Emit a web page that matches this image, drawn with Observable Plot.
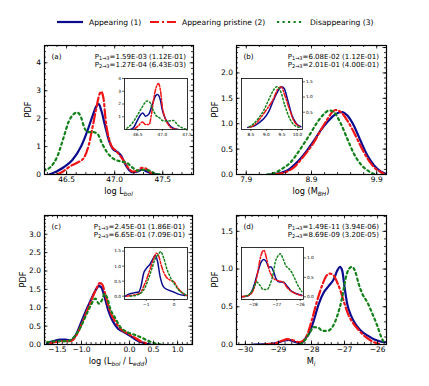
<!DOCTYPE html>
<html><head><meta charset="utf-8">
<script src="https://cdn.jsdelivr.net/npm/d3@7"></script>
<script src="https://cdn.jsdelivr.net/npm/@observablehq/plot@0.6"></script>
<style>
body{margin:0;background:white;}
#chart{position:relative;width:429px;height:386px;overflow:hidden;background:white;}
#chart svg{position:absolute;left:0;top:0;}
</style></head><body><div id="chart"></div>
<script>
// ---------- data ----------
const seriesNames = ["Appearing (1)", "Appearing pristine (2)", "Disappearing (3)"];
const colors = ["#0b0b8f", "#f01414", "#13801a"];

// (a) log L_bol
const aBlue = [[46.32,0],[46.40,0.12],[46.47,0.26],[46.56,0.52],[46.65,1.0],[46.72,1.6],[46.77,2.1],[46.81,2.45],[46.835,2.52],[46.86,2.3],[46.9,1.75],[46.94,1.22],[46.98,0.92],[47.03,0.8],[47.07,0.66],[47.1,0.44],[47.14,0.2],[47.18,0.08],[47.23,0.1],[47.29,0.17],[47.34,0.1],[47.39,0.03],[47.45,0]];
const aRed = [[46.40,0],[46.45,0.08],[46.54,0.3],[46.61,0.42],[46.68,0.6],[46.73,1.05],[46.77,1.7],[46.81,2.4],[46.84,2.85],[46.86,2.97],[46.885,2.7],[46.906,1.94],[46.94,1.3],[46.97,1.0],[47.01,0.86],[47.06,0.66],[47.1,0.46],[47.14,0.24],[47.19,0.1],[47.24,0.14],[47.28,0.24],[47.32,0.22],[47.37,0.08],[47.42,0]];
const aGreen = [[46.26,0.14],[46.33,0.26],[46.40,0.62],[46.47,1.34],[46.52,1.88],[46.57,2.15],[46.61,2.22],[46.65,2.05],[46.68,1.72],[46.72,1.52],[46.77,1.52],[46.82,1.46],[46.87,1.1],[46.92,0.8],[46.99,0.56],[47.06,0.47],[47.13,0.41],[47.18,0.26],[47.24,0.14],[47.31,0.17],[47.36,0.14],[47.43,0.02],[47.48,0]];
const aInBlue = [[46.35,0],[46.42,0.18],[46.49,0.7],[46.56,1.18],[46.6,1.29],[46.66,1.03],[46.73,1.24],[46.8,2.03],[46.87,2.68],[46.9,2.74],[46.96,2.29],[47.0,1.5],[47.08,0.71],[47.15,0.32],[47.22,0.1],[47.32,0]];
const aInRed = [[46.42,0],[46.52,0.32],[46.59,0.58],[46.66,0.39],[46.73,0.39],[46.78,1.24],[46.83,2.55],[46.89,3.47],[46.92,3.6],[46.96,3.08],[47.0,1.76],[47.06,0.84],[47.13,0.32],[47.22,0.05],[47.32,0]];
const aInGreen = [[46.28,0.1],[46.38,0.45],[46.49,1.1],[46.59,1.76],[46.69,2.24],[46.74,2.16],[46.8,1.63],[46.87,1.1],[46.94,0.92],[47.0,0.71],[47.11,0.66],[47.22,0.71],[47.32,0.32],[47.42,0.1],[47.49,0.03]];

// (b) log M_BH
const bBlue = [[8.27,0],[8.42,0.03],[8.53,0.08],[8.63,0.18],[8.73,0.31],[8.83,0.47],[8.94,0.67],[9.04,0.87],[9.14,1.03],[9.24,1.16],[9.32,1.22],[9.37,1.23],[9.45,1.16],[9.55,0.96],[9.65,0.67],[9.76,0.37],[9.86,0.18],[9.96,0.06],[10.04,0.01]];
const bRed = [[8.32,0],[8.53,0.06],[8.63,0.14],[8.73,0.28],[8.83,0.44],[8.94,0.64],[9.04,0.87],[9.14,1.08],[9.22,1.23],[9.27,1.27],[9.35,1.23],[9.45,1.06],[9.55,0.83],[9.65,0.57],[9.76,0.31],[9.86,0.14],[9.96,0.05],[10.01,0.01]];
const bGreen = [[8.22,0],[8.37,0.05],[8.47,0.13],[8.58,0.24],[8.68,0.41],[8.78,0.6],[8.88,0.8],[8.99,1.03],[9.09,1.19],[9.17,1.26],[9.24,1.23],[9.35,1.0],[9.45,0.7],[9.55,0.41],[9.65,0.21],[9.76,0.08],[9.86,0.01]];
const bInBlue = [[8.4,0],[8.6,0.04],[8.76,0.15],[8.92,0.29],[9.07,0.51],[9.23,0.9],[9.39,1.23],[9.49,1.34],[9.57,1.28],[9.7,0.84],[9.82,0.4],[9.96,0.13],[10.11,0.02]];
const bInRed = [[8.45,0],[8.6,0.07],[8.76,0.24],[8.92,0.46],[9.07,0.68],[9.23,0.95],[9.36,1.25],[9.47,1.34],[9.59,1.06],[9.75,0.57],[9.9,0.18],[10.06,0.04]];
const bInGreen = [[8.45,0.02],[8.6,0.13],[8.76,0.32],[8.92,0.57],[9.07,0.9],[9.23,1.23],[9.33,1.34],[9.44,1.23],[9.59,0.73],[9.75,0.29],[9.9,0.07],[10.06,0]];

// (c) log Eddington ratio
const cBlue = [[-1.72,0.04],[-1.58,0.09],[-1.44,0.13],[-1.33,0.13],[-1.23,0.11],[-1.12,0.25],[-1.02,0.56],[-0.92,0.88],[-0.81,1.2],[-0.71,1.47],[-0.64,1.59],[-0.59,1.56],[-0.52,1.29],[-0.43,0.88],[-0.34,0.61],[-0.24,0.43],[-0.12,0.34],[0.02,0.23],[0.16,0.11],[0.3,0.04],[0.44,0]];
const cRed = [[-1.65,0.04],[-1.37,0.09],[-1.23,0.09],[-1.09,0.29],[-0.99,0.58],[-0.88,0.93],[-0.78,1.25],[-0.69,1.52],[-0.62,1.67],[-0.57,1.64],[-0.5,1.34],[-0.4,0.88],[-0.29,0.61],[-0.19,0.43],[-0.05,0.31],[0.09,0.2],[0.23,0.09],[0.37,0.02]];
const cGreen = [[-1.72,0.06],[-1.51,0.09],[-1.3,0.09],[-1.16,0.2],[-1.02,0.47],[-0.92,0.75],[-0.81,1.06],[-0.71,1.25],[-0.64,1.11],[-0.57,1.22],[-0.52,1.38],[-0.47,1.29],[-0.4,0.97],[-0.29,0.7],[-0.19,0.47],[-0.05,0.34],[0.09,0.27],[0.23,0.2],[0.37,0.11],[0.51,0.04],[0.65,0]];
const cInBlue = [[-1.75,0],[-1.63,0.07],[-1.45,0.11],[-1.27,0.14],[-1.18,0.36],[-1.1,0.74],[-0.98,0.94],[-0.86,1.07],[-0.76,1.24],[-0.68,1.35],[-0.6,1.18],[-0.5,0.64],[-0.38,0.31],[-0.2,0.2],[-0.02,0.14],[0.15,0.07],[0.39,0.02]];
const cInRed = [[-1.7,0],[-1.45,0.04],[-1.21,0.11],[-1.1,0.31],[-0.98,0.58],[-0.86,0.91],[-0.74,1.24],[-0.64,1.43],[-0.56,1.35],[-0.44,0.96],[-0.32,0.69],[-0.14,0.53],[0,0.47],[0.15,0.25],[0.33,0.09],[0.45,0.02]];
const cInGreen = [[-1.57,0],[-1.33,0.04],[-1.15,0.14],[-1.03,0.31],[-0.92,0.58],[-0.8,0.91],[-0.68,1.24],[-0.56,1.4],[-0.48,1.48],[-0.38,1.29],[-0.26,0.91],[-0.14,0.64],[0,0.42],[0.15,0.22],[0.33,0.09],[0.45,0.03]];

// (d) M_i
const dBlue = [[-29.75,0],[-29.24,0.01],[-28.99,0.03],[-28.84,0.05],[-28.69,0.06],[-28.54,0.04],[-28.38,0.02],[-28.25,0.04],[-28.15,0.1],[-28.08,0.14],[-27.93,0.32],[-27.78,0.54],[-27.63,0.69],[-27.47,0.78],[-27.32,0.87],[-27.22,0.98],[-27.14,1.03],[-27.07,0.98],[-27.0,0.76],[-26.92,0.54],[-26.8,0.38],[-26.67,0.27],[-26.52,0.19],[-26.31,0.12],[-26.11,0.07],[-25.91,0.04],[-25.76,0.03]];
const dRed = [[-29.44,0],[-29.14,0.01],[-28.89,0.05],[-28.74,0.07],[-28.59,0.06],[-28.38,0.03],[-28.23,0.06],[-28.13,0.13],[-27.98,0.34],[-27.83,0.58],[-27.68,0.78],[-27.55,0.91],[-27.44,0.94],[-27.32,0.91],[-27.22,0.82],[-27.12,0.71],[-27.0,0.54],[-26.87,0.38],[-26.72,0.27],[-26.57,0.19],[-26.36,0.1],[-26.16,0.04],[-25.96,0.01]];
const dGreen = [[-28.33,0],[-28.18,0.07],[-28.05,0.16],[-27.93,0.23],[-27.78,0.22],[-27.68,0.18],[-27.53,0.18],[-27.37,0.23],[-27.22,0.38],[-27.07,0.63],[-26.97,0.87],[-26.87,1.0],[-26.77,1.03],[-26.67,0.96],[-26.57,0.8],[-26.46,0.67],[-26.31,0.56],[-26.16,0.41],[-26.01,0.25],[-25.89,0.1],[-25.81,0.03]];
const dInBlue = [[-28.5,0],[-28.25,0.02],[-28.04,0.17],[-27.9,0.43],[-27.76,0.73],[-27.66,0.9],[-27.55,0.96],[-27.44,0.9],[-27.34,0.77],[-27.24,0.77],[-27.13,0.64],[-27.01,0.44],[-26.87,0.38],[-26.73,0.38],[-26.59,0.3],[-26.42,0.17],[-26.21,0.09],[-25.93,0.04]];
const dInRed = [[-28.5,0],[-28.18,0.04],[-27.97,0.21],[-27.83,0.56],[-27.72,0.94],[-27.62,1.15],[-27.55,1.2],[-27.45,1.03],[-27.34,0.73],[-27.2,0.53],[-27.06,0.44],[-26.92,0.41],[-26.73,0.38],[-26.56,0.24],[-26.35,0.13],[-26.14,0.07],[-25.93,0.03]];
const dInGreen = [[-28.32,0.02],[-28.11,0.1],[-27.97,0.24],[-27.86,0.38],[-27.72,0.3],[-27.58,0.19],[-27.41,0.19],[-27.27,0.34],[-27.15,0.6],[-27.06,0.9],[-26.96,1.04],[-26.85,1.11],[-26.73,0.98],[-26.62,0.81],[-26.49,0.73],[-26.35,0.62],[-26.21,0.44],[-26.07,0.26],[-25.93,0.13]];

// tick labels
const aXLabels = [46.5, 47.0, 47.5], aYLabels = [0, 1, 2, 3, 4];
const bXLabels = [7.9, 8.9, 9.9], bYLabels = [0, 0.5, 1.0, 1.5, 2.0];
const cXLabels = [-1.5, -1.0, 0.0, 0.5, 1.0], cYLabels = [0, 0.5, 1.0, 1.5, 2.0, 2.5, 3.0];
const dXLabels = [-30, -29, -28, -27, -26], dYLabels = [0, 0.5, 1.0, 1.5];
const aInXLabels = [46.5, 47.0, 47.5], aInYLabels = [1, 2, 3, 4];
const bInXLabels = [8.5, 9.0, 9.5, 10.0], bInYLabels = [0.5, 1.0, 1.5];
const cInXLabels = [-1, 0], cInYLabels = [0.0, 0.5, 1.0, 1.5];
const dInXLabels = [-28, -27, -26], dInYLabels = [0.0, 0.5, 1.0];

// annotation texts
const panelLetters = ["(a)", "(b)", "(c)", "(d)"];
const p13 = ["1.59E-03 (1.12E-01)", "6.08E-02 (1.12E-01)", "2.45E-01 (1.86E-01)", "1.49E-11 (3.94E-06)"];
const p23 = ["1.27E-04 (6.43E-03)", "2.01E-01 (4.00E-01)", "6.65E-01 (7.09E-01)", "8.69E-09 (3.20E-05)"];

// ---------- layout ----------
const W = 429, H = 386;
const FONT = "DejaVu Sans";
const mainDash = [null, "9,3,2,3", "2.2,3.3"];
const inDash = [null, "5,1.8,1.4,1.8", "1.5,2.2"];

const panels = [
  {box:[44,45,193,174], xd:[46.27,47.82], yd:[0,4.62], xBase:46.5, xStep:0.5, xMinor:0.1, yBase:0, yStep:1, yMinor:0.2,
   xl:aXLabels, yl:aYLabels, xf:".1f", yf:"d", series:[aBlue,aRed,aGreen],
   inset:{box:[124,78,187,129], xd:[46.23,47.51], yd:[0,4], xl:aInXLabels, yl:aInYLabels, xf:".1f", yf:"d", right:false, series:[aInBlue,aInRed,aInGreen]}},
  {box:[236,45,386,174], xd:[7.75,10.05], yd:[0,2.54], xBase:7.9, xStep:1, xMinor:0.2, yBase:0, yStep:0.5, yMinor:0.1,
   xl:bXLabels, yl:bYLabels, xf:".1f", yf:".1f", series:[bBlue,bRed,bGreen],
   inset:{box:[241,78,302,129], xd:[8.2,10.16], yd:[-0.07,1.61], xl:bInXLabels, yl:bInYLabels, xf:".1f", yf:".1f", right:true, series:[bInBlue,bInRed,bInGreen]}},
  {box:[44,215,192,344], xd:[-1.77,1.31], yd:[0,3.51], xBase:0, xStep:0.5, xMinor:0.1, yBase:0, yStep:0.5, yMinor:0.1,
   xl:cXLabels, yl:cYLabels, xf:".1f", yf:".1f", series:[cBlue,cRed,cGreen],
   inset:{box:[124,247,187,299], xd:[-1.78,0.48], yd:[-0.11,1.62], xl:cInXLabels, yl:cInYLabels, xf:"d", yf:".1f", right:false, series:[cInBlue,cInRed,cInGreen]}},
  {box:[236,215,386,344], xd:[-30.27,-25.73], yd:[0,1.71], xBase:-30, xStep:1, xMinor:0.2, yBase:0, yStep:0.5, yMinor:0.1,
   xl:dXLabels, yl:dYLabels, xf:"d", yf:".1f", series:[dBlue,dRed,dGreen],
   inset:{box:[241,247,303,299], xd:[-28.5,-25.86], yd:[-0.07,1.27], xl:dInXLabels, yl:dInYLabels, xf:"d", yf:".1f", right:true, series:[dInBlue,dInRed,dInGreen]}}
];

function stepTicks(domain, base, step) {
  const k0 = Math.ceil((domain[0] - base) / step - 1e-9), k1 = Math.floor((domain[1] - base) / step + 1e-9);
  return d3.range(k0, k1 + 1).map(k => +(base + k * step).toFixed(6));
}

function mainPanel(p) {
  const [x0, y0, x1, y1] = p.box, fw = x1 - x0, fh = y1 - y0;
  const major = 3.5, minor = 2;
  const xM = stepTicks(p.xd, p.xBase, p.xStep), xm = stepTicks(p.xd, p.xBase, p.xMinor);
  const yM = stepTicks(p.yd, p.yBase, p.yStep), ym = stepTicks(p.yd, p.yBase, p.yMinor);
  const marks = [];
  p.series.forEach((pts, i) => marks.push(Plot.line(pts, {x: d => d[0], y: d => d[1], stroke: colors[i], strokeWidth: 2.2, strokeDasharray: mainDash[i], curve: "monotone-x", clip: true})));
  const tk = {stroke: "black", strokeWidth: 0.8};
  marks.push(
    Plot.tickX(xm, {x: d => d, insetTop: fh - minor, ...tk}),
    Plot.tickX(xm, {x: d => d, insetBottom: fh - minor, ...tk}),
    Plot.tickX(xM, {x: d => d, insetTop: fh - major, ...tk}),
    Plot.tickX(xM, {x: d => d, insetBottom: fh - major, ...tk}),
    Plot.tickY(ym, {y: d => d, insetRight: fw - minor, ...tk}),
    Plot.tickY(ym, {y: d => d, insetLeft: fw - minor, ...tk}),
    Plot.tickY(yM, {y: d => d, insetRight: fw - major, ...tk}),
    Plot.tickY(yM, {y: d => d, insetLeft: fw - major, ...tk}),
    Plot.axisX(p.xl, {tickSize: 0, tickPadding: 2.5, tickFormat: d3.format(p.xf), label: null, fill: "black"}),
    Plot.axisY(p.yl, {tickSize: 0, tickPadding: 3.5, tickFormat: d3.format(p.yf), label: null, fill: "black"}),
    Plot.frame({stroke: "black", strokeWidth: 1.2})
  );
  return Plot.plot({width: W, height: H, marginLeft: x0, marginRight: W - x1, marginTop: y0, marginBottom: H - y1,
    x: {domain: p.xd}, y: {domain: p.yd},
    style: {background: "transparent", fontFamily: FONT, fontSize: "7.5px", color: "black"}, marks});
}

function insetPanel(q) {
  const [x0, y0, x1, y1] = q.box;
  const marks = [Plot.frame({fill: "white", stroke: "none"})];
  q.series.forEach((pts, i) => marks.push(Plot.line(pts, {x: d => d[0], y: d => d[1], stroke: colors[i], strokeWidth: 1.5, strokeDasharray: inDash[i], curve: "monotone-x", clip: true})));
  marks.push(
    Plot.axisX(q.xl, {tickSize: 2, tickPadding: 1, tickFormat: d3.format(q.xf), label: null, stroke: "black", strokeWidth: 0.6, fill: "black"}),
    Plot.axisY(q.yl, {anchor: q.right ? "right" : "left", tickSize: 2, tickPadding: 1.5, tickFormat: d3.format(q.yf), label: null, stroke: "black", strokeWidth: 0.6, fill: "black"}),
    Plot.frame({stroke: "black", strokeWidth: 0.8})
  );
  return Plot.plot({width: W, height: H, marginLeft: x0, marginRight: W - x1, marginTop: y0, marginBottom: H - y1,
    x: {domain: q.xd}, y: {domain: q.yd},
    style: {background: "transparent", fontFamily: FONT, fontSize: "4.3px", color: "black"}, marks});
}

const chart = document.getElementById("chart");
panels.forEach(p => chart.appendChild(mainPanel(p)));
panels.forEach(p => chart.appendChild(insetPanel(p.inset)));

// ---------- text overlay ----------
const ov = d3.select(chart).append("svg").attr("width", W).attr("height", H).attr("font-family", FONT).attr("fill", "black");

function rich(x, y, parts, size, anchor = "start", rotate = false) {
  const t = ov.append("text").attr("x", x).attr("y", y).attr("font-size", size).attr("text-anchor", anchor);
  if (rotate) t.attr("transform", `rotate(-90,${x},${y})`);
  let shift = 0;
  for (const [s, kind] of parts) {
    const isSub = kind === "sub" || kind === "isub";
    const target = isSub ? size * 0.2 : 0;
    const ts = t.append("tspan").text(s).attr("dy", target - shift);
    shift = target;
    if (isSub) ts.attr("font-size", size * 0.72);
    if (kind === "isub") ts.attr("font-style", "italic");
  }
  return t;
}

// legend
const legY = 22;
const legItems = [{x: 57, tx: 89}, {x: 150, tx: 182}, {x: 277, tx: 310}];
legItems.forEach((it, i) => {
  ov.append("line").attr("x1", it.x).attr("x2", it.x + 26).attr("y1", legY).attr("y2", legY)
    .attr("stroke", colors[i]).attr("stroke-width", 2.2).attr("stroke-dasharray", mainDash[i]);
  ov.append("text").attr("x", it.tx).attr("y", legY + 3).attr("font-size", 7.6).text(seriesNames[i]);
});

// panel annotations
panels.forEach((p, i) => {
  const [x0, y0, x1, y1] = p.box;
  ov.append("text").attr("x", x0 + 7.5).attr("y", y0 + 13.5).attr("font-size", 7.2).text(panelLetters[i]);
  rich(x1 - 7, y0 + 13.5, [["P", ""], ["1→3", "sub"], ["=" + p13[i], ""]], 7, "end");
  rich(x1 - 7, y0 + 22, [["P", ""], ["2→3", "sub"], ["=" + p23[i], ""]], 7, "end");
});

// axis titles
const fs = 8.2;
rich(118.5, 194, [["log L", ""], ["bol", "isub"]], fs, "middle");
rich(311, 194, [["log (M", ""], ["BH", "isub"], [")", ""]], fs, "middle");
rich(118, 364, [["log (L", ""], ["bol", "isub"], [" / L", ""], ["edd", "isub"], [")", ""]], fs, "middle");
rich(311, 364, [["M", ""], ["i", "isub"]], fs, "middle");
[[28, 109.5], [215, 109.5], [23, 279.5], [215, 279.5]].forEach(([x, y]) => {
  ov.append("text").attr("x", x).attr("y", y).attr("dy", "0.35em").attr("font-size", fs).attr("text-anchor", "middle")
    .attr("transform", `rotate(-90,${x},${y})`).text("PDF");
});
</script></body></html>
